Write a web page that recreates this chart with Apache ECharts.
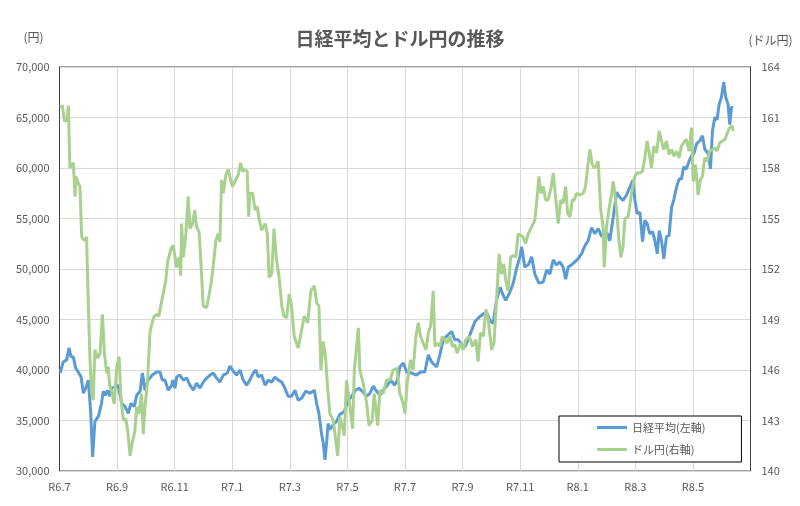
<!DOCTYPE html>
<html>
<head>
<meta charset="utf-8">
<script src="https://cdn.jsdelivr.net/npm/echarts@6/dist/echarts.min.js"></script>
<style>
  html, body { margin: 0; padding: 0; background: #fff; }
  #chart { width: 800px; height: 506px; }
</style>
</head>
<body>
<div id="chart"></div>
<script>
// x = months since R6.7 (July 2024)
var tickLabels = ['R6.7', 'R6.9', 'R6.11', 'R7.1', 'R7.3', 'R7.5', 'R7.7', 'R7.9', 'R7.11', 'R8.1', 'R8.3', 'R8.5'];

var nikkeiMonths = [0.02, 0.13, 0.25, 0.33, 0.40, 0.48, 0.56, 0.65, 0.75, 0.83, 0.91, 1.00, 1.08, 1.15, 1.23, 1.35, 1.46, 1.52, 1.60, 1.67,
  1.75, 1.81, 1.93, 2.04, 2.16, 2.27, 2.39, 2.48, 2.60, 2.68, 2.80, 2.88, 2.97, 3.08, 3.22, 3.37, 3.49, 3.57, 3.66, 3.78,
  3.90, 3.93, 4.01, 4.07, 4.18, 4.30, 4.42, 4.53, 4.65, 4.76, 4.88, 4.99, 5.11, 5.23, 5.34, 5.46, 5.57, 5.69, 5.83, 5.92,
  6.03, 6.15, 6.27, 6.38, 6.50, 6.61, 6.73, 6.82, 6.90, 7.02, 7.14, 7.25, 7.37, 7.48, 7.60, 7.72, 7.83, 7.94, 8.06, 8.18,
  8.29, 8.41, 8.55, 8.70, 8.85, 8.93, 9.01, 9.10, 9.16, 9.22, 9.28, 9.33, 9.39, 9.51, 9.62, 9.74, 9.89, 10.03, 10.15, 10.28,
  10.40, 10.51, 10.67, 10.78, 10.90, 11.01, 11.13, 11.24, 11.36, 11.51, 11.63, 11.74, 11.82, 11.94, 12.06, 12.23, 12.40, 12.54, 12.69, 12.81,
  12.92, 13.10, 13.21, 13.33, 13.50, 13.62, 13.73, 13.85, 13.97, 14.08, 14.19, 14.31, 14.43, 14.60, 14.74, 14.85, 14.95, 15.06, 15.18, 15.30,
  15.41, 15.50, 15.64, 15.76, 15.87, 15.99, 16.05, 16.16, 16.28, 16.40, 16.51, 16.65, 16.80, 16.92, 17.03, 17.15, 17.26, 17.38, 17.49, 17.58,
  17.67, 17.78, 17.90, 18.01, 18.13, 18.25, 18.36, 18.48, 18.59, 18.71, 18.83, 18.92, 19.03, 19.11, 19.23, 19.35, 19.46, 19.57, 19.69, 19.81,
  19.92, 19.98, 20.06, 20.16, 20.25, 20.33, 20.41, 20.50, 20.60, 20.68, 20.76, 20.83, 20.91, 20.99, 21.08, 21.17, 21.26, 21.34, 21.43, 21.52,
  21.60, 21.68, 21.77, 21.87, 21.95, 22.03, 22.13, 22.24, 22.33, 22.41, 22.53, 22.61, 22.68, 22.76, 22.84, 22.91, 22.99, 23.07, 23.14, 23.22,
  23.28, 23.34, 23.40];
var nikkeiValues = [39700, 40800, 41000, 42200, 41300, 41300, 40200, 39800, 39300, 37700, 38200, 39000, 36000, 31400, 34900, 35400, 36700, 37900, 37500, 38000,
  37400, 38200, 38300, 38500, 36700, 36400, 35700, 36700, 36400, 37500, 37900, 39700, 38000, 39000, 39500, 39800, 39800, 39000, 39000, 38000,
  38500, 39000, 38200, 39300, 39500, 39000, 39200, 38500, 38000, 38700, 38200, 38800, 39200, 39500, 39700, 39200, 38800, 39500, 39700, 40400,
  39900, 39500, 40000, 39000, 38500, 39000, 39700, 40000, 39300, 39500, 38500, 39000, 38800, 39300, 39000, 38800, 38200, 37400, 37400, 38000,
  37000, 37200, 37900, 37700, 38000, 36700, 35700, 33700, 32800, 31100, 32900, 34700, 34100, 34600, 34900, 35600, 35900, 37000, 37400, 38000,
  38200, 37900, 37400, 37700, 38400, 37900, 37500, 38000, 38400, 39000, 38500, 39000, 40300, 40700, 39800, 39700, 39500, 39800, 39800, 41500,
  40800, 40300, 41500, 43000, 43500, 43800, 43000, 43000, 42500, 42300, 43000, 43900, 44800, 45300, 45600, 45600, 44900, 44600, 46900, 48200,
  47400, 46900, 47700, 48600, 50000, 51200, 52200, 50200, 50400, 51200, 49500, 48600, 48700, 49900, 49500, 50900, 50400, 50700, 50200, 49000,
  50200, 50400, 50700, 51000, 51500, 52300, 52800, 54100, 53500, 54000, 53200, 53700, 53500, 52800, 55100, 57600, 57100, 56800, 57300, 58100,
  58800, 56900, 55500, 55600, 52700, 54800, 54500, 53500, 53700, 52800, 51500, 53800, 52800, 51000, 53200, 53300, 56100, 56900, 58100, 58900,
  58900, 60100, 59900, 60700, 61200, 61400, 62400, 62700, 63200, 61900, 61400, 59900, 63700, 65000, 64800, 66300, 67000, 68500, 67000, 66300,
  64300, 66000, 66000];

var usdMonths = [0.02, 0.10, 0.17, 0.25, 0.31, 0.36, 0.42, 0.48, 0.54, 0.57, 0.65, 0.71, 0.77, 0.86, 0.94, 1.00, 1.06, 1.12, 1.17, 1.23,
  1.33, 1.41, 1.49, 1.56, 1.64, 1.69, 1.75, 1.81, 1.90, 1.99, 2.07, 2.14, 2.22, 2.30, 2.37, 2.45, 2.53, 2.62, 2.68, 2.76,
  2.85, 2.91, 2.97, 3.06, 3.14, 3.20, 3.29, 3.37, 3.45, 3.55, 3.60, 3.69, 3.76, 3.80, 3.87, 3.95, 4.07, 4.16, 4.21, 4.24,
  4.30, 4.39, 4.47, 4.53, 4.62, 4.70, 4.76, 4.85, 4.94, 4.99, 5.11, 5.20, 5.28, 5.36, 5.43, 5.51, 5.57, 5.63, 5.69, 5.78,
  5.86, 5.94, 6.01, 6.09, 6.21, 6.29, 6.36, 6.44, 6.52, 6.57, 6.61, 6.71, 6.79, 6.87, 6.94, 7.02, 7.14, 7.22, 7.28, 7.37,
  7.45, 7.54, 7.63, 7.72, 7.80, 7.89, 7.98, 8.06, 8.15, 8.29, 8.39, 8.50, 8.62, 8.73, 8.85, 8.93, 9.01, 9.08, 9.16, 9.24,
  9.31, 9.39, 9.51, 9.59, 9.66, 9.74, 9.82, 9.89, 9.97, 10.09, 10.18, 10.24, 10.32, 10.38, 10.43, 10.55, 10.67, 10.75, 10.86, 10.93,
  11.05, 11.13, 11.24, 11.36, 11.48, 11.59, 11.72, 11.82, 11.94, 12.00, 12.08, 12.19, 12.28, 12.38, 12.46, 12.54, 12.63, 12.73, 12.81, 12.89,
  12.98, 13.04, 13.12, 13.21, 13.30, 13.39, 13.47, 13.56, 13.65, 13.73, 13.81, 13.93, 14.02, 14.11, 14.23, 14.35, 14.46, 14.54, 14.62, 14.72,
  14.81, 14.89, 15.01, 15.09, 15.18, 15.27, 15.35, 15.43, 15.50, 15.58, 15.67, 15.76, 15.85, 15.93, 16.10, 16.19, 16.28, 16.40, 16.51, 16.57,
  16.65, 16.72, 16.80, 16.88, 16.97, 17.07, 17.15, 17.23, 17.32, 17.41, 17.49, 17.58, 17.65, 17.73, 17.81, 17.88, 17.96, 18.07, 18.19, 18.27,
  18.34, 18.42, 18.50, 18.59, 18.71, 18.80, 18.88, 18.92, 19.00, 19.08, 19.18, 19.23, 19.29, 19.37, 19.43, 19.50, 19.57, 19.64, 19.75, 19.87,
  19.98, 20.06, 20.16, 20.25, 20.33, 20.41, 20.48, 20.56, 20.64, 20.74, 20.83, 20.91, 20.99, 21.08, 21.17, 21.26, 21.34, 21.43, 21.52, 21.60,
  21.68, 21.77, 21.87, 21.95, 22.01, 22.09, 22.18, 22.26, 22.33, 22.41, 22.49, 22.58, 22.68, 22.76, 22.84, 22.93, 23.03, 23.11, 23.20, 23.28,
  23.36, 23.40];
var usdValues = [161.6, 161.7, 160.8, 160.8, 161.7, 158.0, 158.0, 158.3, 156.3, 157.5, 157.1, 156.9, 153.9, 153.7, 153.9, 150.0, 146.6, 144.6, 144.2, 147.2,
  146.7, 147.0, 149.3, 147.0, 145.8, 146.2, 145.0, 144.8, 144.0, 146.2, 146.8, 144.2, 143.0, 143.1, 142.4, 140.9, 141.7, 142.4, 143.8, 143.4,
  144.6, 142.2, 143.8, 145.4, 148.2, 148.7, 149.2, 149.3, 149.2, 150.1, 150.2, 151.3, 152.5, 152.7, 153.2, 153.4, 152.1, 152.7, 151.6, 154.7,
  152.7, 154.1, 156.3, 154.4, 154.7, 155.5, 154.5, 154.2, 151.5, 149.8, 149.7, 150.5, 151.3, 152.5, 153.7, 154.1, 153.6, 157.3, 156.5, 157.6,
  157.9, 157.3, 156.9, 157.2, 157.6, 158.3, 157.8, 157.9, 157.8, 155.1, 156.5, 156.5, 155.5, 155.7, 154.9, 154.3, 154.7, 154.1, 151.5, 151.7,
  154.4, 152.5, 151.5, 149.8, 149.2, 149.1, 150.5, 149.8, 148.0, 147.3, 148.2, 149.2, 148.8, 150.7, 151.0, 150.0, 149.8, 146.0, 147.7, 146.8,
  145.0, 143.4, 143.0, 141.9, 140.9, 143.2, 142.7, 142.1, 145.4, 143.8, 142.5, 146.0, 147.4, 148.5, 146.0, 145.2, 144.0, 142.7, 143.0, 144.6,
  142.7, 144.8, 144.6, 145.4, 145.4, 146.0, 146.1, 144.6, 144.0, 143.4, 145.3, 146.6, 146.0, 148.0, 148.8, 148.0, 147.6, 147.2, 148.2, 148.6,
  150.7, 147.4, 147.6, 147.4, 148.0, 147.8, 147.6, 148.0, 147.4, 147.5, 147.0, 147.6, 147.2, 147.8, 148.0, 147.4, 147.8, 146.5, 148.2, 148.0,
  149.6, 149.0, 147.2, 147.6, 150.2, 152.9, 151.7, 152.3, 151.3, 150.7, 152.7, 152.8, 152.7, 154.1, 153.9, 153.5, 154.1, 154.5, 154.9, 155.9,
  157.5, 156.5, 156.9, 156.1, 156.1, 156.8, 157.7, 156.3, 154.7, 156.1, 155.9, 156.9, 155.3, 155.1, 156.1, 156.1, 156.5, 156.4, 156.5, 156.9,
  158.0, 159.1, 158.2, 158.0, 158.4, 155.5, 154.5, 152.1, 154.5, 155.5, 156.5, 157.2, 156.5, 155.1, 153.7, 152.7, 153.3, 155.0, 155.1, 156.5,
  157.5, 157.7, 157.7, 157.8, 158.6, 159.6, 158.9, 158.0, 159.3, 158.9, 160.2, 159.6, 159.1, 159.6, 158.8, 159.1, 158.7, 159.0, 158.6, 159.3,
  159.5, 159.7, 159.0, 160.4, 157.2, 158.2, 156.4, 157.3, 157.5, 158.6, 158.4, 159.0, 159.1, 159.2, 159.0, 159.5, 159.6, 159.7, 160.1, 160.4,
  160.5, 160.2];

function pairs(xs, ys) {
  return xs.map(function (x, i) { return [x, ys[i]]; });
}

var font = "'Noto Sans CJK JP', 'Noto Sans', sans-serif";
var textColor = '#595959';

var chart = echarts.init(document.getElementById('chart'));
chart.setOption({
  animation: false,
  backgroundColor: '#fff',
  textStyle: { fontFamily: font },
  title: {
    text: '日経平均とドル円の推移',
    left: 'center',
    top: 24,
    textStyle: { fontSize: 19, fontWeight: 'bold', color: textColor, fontFamily: font }
  },
  legend: {
    orient: 'vertical',
    left: 559,
    top: 416,
    padding: [6, 36, 7, 38],
    itemGap: 11,
    itemWidth: 30,
    itemHeight: 3,
    icon: 'rect',
    backgroundColor: '#fff',
    borderColor: '#000',
    borderWidth: 1,
    textStyle: { fontSize: 11, color: textColor, fontFamily: font },
    data: ['日経平均(左軸)', 'ドル円(右軸)']
  },
  grid: {
    left: 59.5,
    right: 49.5,
    top: 67,
    bottom: 35,
    show: true,
    borderColor: '#404040',
    borderWidth: 1
  },
  xAxis: {
    type: 'value',
    min: 0,
    max: 24,
    interval: 2,
    axisLine: { show: true, lineStyle: { color: '#d9d9d9' } },
    axisTick: { show: false },
    splitLine: { show: true, lineStyle: { color: '#d9d9d9' } },
    axisLabel: {
      color: textColor,
      fontSize: 11,
      margin: 10,
      showMaxLabel: false,
      formatter: function (v) { return tickLabels[v / 2] || ''; }
    }
  },
  yAxis: [
    {
      type: 'value',
      min: 30000,
      max: 70000,
      interval: 5000,
      name: '(円)',
      nameLocation: 'end',
      nameGap: 24,
      nameTextStyle: { color: textColor, fontSize: 12, align: 'right', padding: [0, 16, 0, 0] },
      axisLine: { show: true, lineStyle: { color: '#404040' } },
      axisTick: { show: false },
      splitLine: { show: true, lineStyle: { color: '#d9d9d9' } },
      axisLabel: {
        color: textColor,
        fontSize: 11,
        margin: 10,
        formatter: function (v) { return v.toLocaleString('en-US'); }
      }
    },
    {
      type: 'value',
      min: 140,
      max: 164,
      interval: 3,
      name: '(ドル円)',
      nameLocation: 'end',
      nameGap: 21,
      nameTextStyle: { color: textColor, fontSize: 12, align: 'center', padding: [0, 0, 0, 40] },
      axisLine: { show: true, lineStyle: { color: '#404040' } },
      axisTick: { show: false },
      splitLine: { show: false },
      axisLabel: { color: textColor, fontSize: 11, margin: 11 }
    }
  ],
  series: [
    {
      name: '日経平均(左軸)',
      type: 'line',
      yAxisIndex: 0,
      showSymbol: false,
      color: '#5b9bd5',
      lineStyle: { width: 3, color: '#5b9bd5' },
      data: pairs(nikkeiMonths, nikkeiValues)
    },
    {
      name: 'ドル円(右軸)',
      type: 'line',
      yAxisIndex: 1,
      showSymbol: false,
      color: '#a9d18e',
      lineStyle: { width: 3, color: '#a9d18e' },
      data: pairs(usdMonths, usdValues)
    }
  ]
});
</script>
</body>
</html>
